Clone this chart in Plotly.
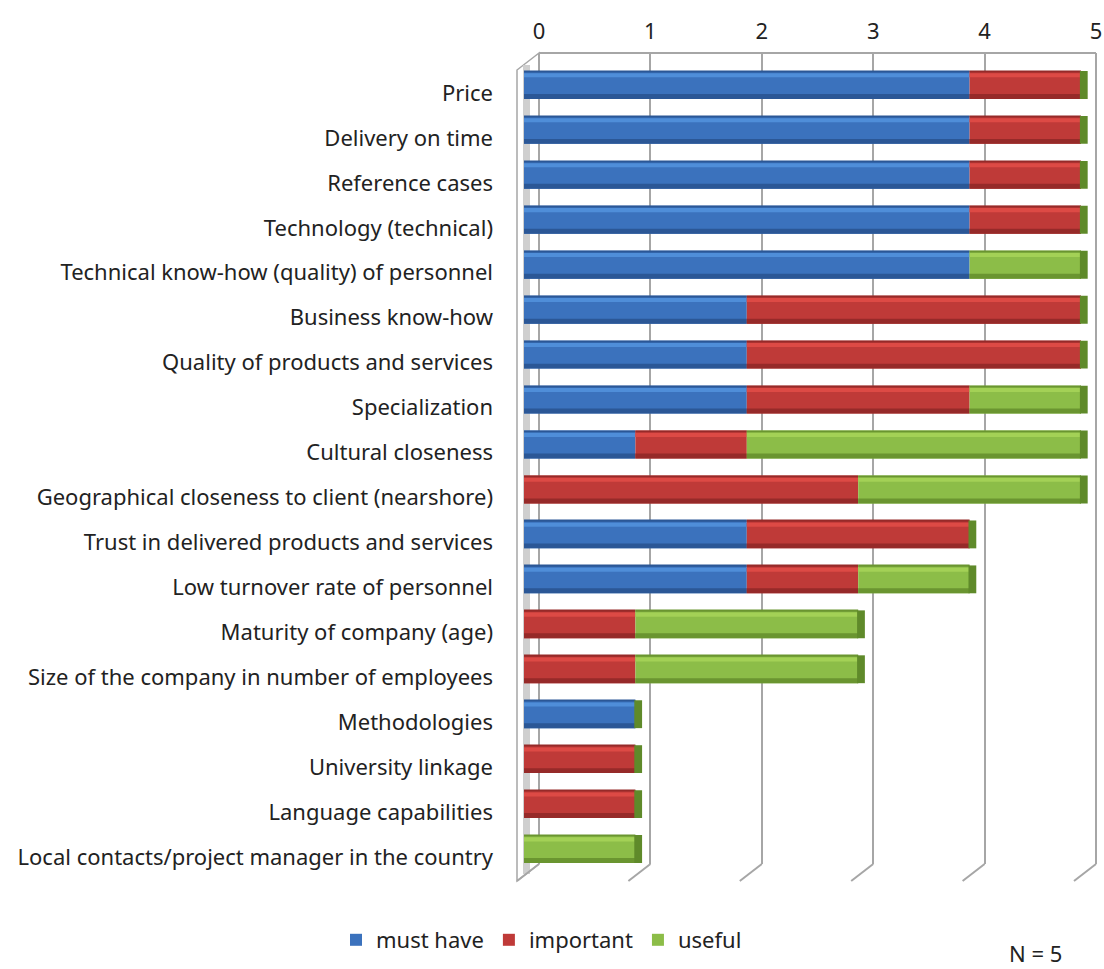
import numpy as np
import plotly.graph_objects as go

categories = [
    "Price",
    "Delivery on time",
    "Reference cases",
    "Technology (technical)",
    "Technical know-how (quality) of personnel",
    "Business know-how",
    "Quality of products and services",
    "Specialization",
    "Cultural closeness",
    "Geographical closeness to client (nearshore)",
    "Trust in delivered products and services",
    "Low turnover rate of personnel",
    "Maturity of company (age)",
    "Size of the company in number of employees",
    "Methodologies",
    "University linkage",
    "Language capabilities",
    "Local contacts/project manager in the country",
]
must_have = [4, 4, 4, 4, 4, 2, 2, 2, 1, 0, 2, 2, 0, 0, 1, 0, 0, 0]
important = [1, 1, 1, 1, 0, 3, 3, 2, 1, 3, 2, 1, 1, 1, 0, 1, 1, 0]
useful = [0, 0, 0, 0, 1, 0, 0, 1, 3, 2, 0, 1, 2, 2, 0, 0, 0, 1]
tick_values = [0, 1, 2, 3, 4, 5]

# (name, values, mid colour, highlight colour, shadow colour)
series = [
    ("must have", must_have, "#3b72bd", "#4f8ed9", "#2b5796"),
    ("important", important, "#bf3a38", "#dd4a45", "#962a29"),
    ("useful", useful, "#8cbd48", "#a3d156", "#6a9530"),
]

W, H = 1104, 969
FONT = "Noto Sans"
TEXT = "#222222"
GRID = "#a6a6a6"
WALL = "#cfcfcf"


def fx(px):
    return px / W


def fy(px):
    return 1 - px / H


# back wall (value axis, gridlines) and front plane (bars) in pixels
BACK_X = (539, 1096)
BACK_Y = (53, 864)
FRONT_X0 = 524
UNIT = (BACK_X[1] - BACK_X[0]) / tick_values[-1]   # pixels per unit
FRONT_MAX = 5.18                                     # room for the bar end faces
BAR_Y = (62.5, 871.5)
LABEL_SHIFT = 8          # category labels sit slightly below bar centres
DEPTH_DX, DEPTH_DY = -22, 17

fig = go.Figure()

# invisible trace that holds the back-wall subplot (top axis + gridlines)
fig.add_trace(go.Scatter(x=[None], y=[None], xaxis="x", yaxis="y3",
                         showlegend=False, hoverinfo="skip"))
# invisible trace that carries the category labels
fig.add_trace(go.Scatter(x=[None] * len(categories), y=categories,
                         xaxis="x2", yaxis="y4", mode="markers",
                         showlegend=False, hoverinfo="skip"))

base = np.zeros(len(categories))
for name, vals, mid, light, dark in series:
    vals = np.array(vals, dtype=float)
    common = dict(x=vals, y=categories, base=base.copy(), orientation="h",
                  xaxis="x2", yaxis="y", hoverinfo="skip", legendgroup=name)
    fig.add_trace(go.Bar(name=name, width=0.62, offset=-0.31,
                         marker=dict(color=mid, line=dict(width=0)), **common))
    # cylinder-like shading: light band near the top, dark band near the bottom
    fig.add_trace(go.Bar(width=0.03, offset=-0.31, showlegend=False,
                         marker=dict(color=dark, line=dict(width=0)), **common))
    fig.add_trace(go.Bar(width=0.09, offset=-0.26, showlegend=False,
                         marker=dict(color=light, line=dict(width=0)), **common))
    fig.add_trace(go.Bar(width=0.11, offset=0.20, showlegend=False,
                         marker=dict(color=dark, line=dict(width=0)), **common))
    base = base + vals

# end face of each 3D bar
totals = base
fig.add_trace(go.Bar(x=[0.07] * len(categories), y=categories,
                     base=totals - 0.01, orientation="h", width=0.62,
                     offset=-0.31,
                     marker=dict(color="#5f8a2a", line=dict(width=0)),
                     xaxis="x2", yaxis="y", showlegend=False, hoverinfo="skip"))

shapes = []
bx0, bx1 = BACK_X
by0, by1 = BACK_Y
# left side wall of the 3D box
wall_path = (f"M{fx(bx0)},{fy(by0)} L{fx(bx0 + DEPTH_DX)},{fy(by0 + DEPTH_DY)} "
             f"L{fx(bx0 + DEPTH_DX)},{fy(by1 + DEPTH_DY)} L{fx(bx0)},{fy(by1)} Z")
shapes.append(dict(type="path", xref="paper", yref="paper", path=wall_path,
                   fillcolor="white", line=dict(color=GRID, width=1.5),
                   layer="below"))
shapes.append(dict(type="rect", xref="paper", yref="paper",
                   x0=fx(bx0 - 16), x1=fx(bx0 - 9),
                   y0=fy(by1 + 10), y1=fy(by0 + 12),
                   fillcolor=WALL, line=dict(width=0), layer="below"))
# back frame: top edge and outer gridlines
shapes.append(dict(type="line", xref="paper", yref="paper",
                   x0=fx(bx0), x1=fx(bx1), y0=fy(by0), y1=fy(by0),
                   line=dict(color=GRID, width=2), layer="below"))
for t in tick_values:
    xb = bx0 + UNIT * t
    if t in (tick_values[0], tick_values[-1]):
        shapes.append(dict(type="line", xref="paper", yref="paper",
                           x0=fx(xb), x1=fx(xb), y0=fy(by0), y1=fy(by1),
                           line=dict(color=GRID, width=2), layer="below"))
    # floor edges running from the back gridlines toward the viewer
    shapes.append(dict(type="line", xref="paper", yref="paper",
                       x0=fx(xb), x1=fx(xb + DEPTH_DX),
                       y0=fy(by1), y1=fy(by1 + DEPTH_DY),
                       line=dict(color=GRID, width=2), layer="below"))

fig.update_layout(
    width=W, height=H,
    margin=dict(l=0, r=0, t=0, b=0, autoexpand=False),
    paper_bgcolor="white", plot_bgcolor="rgba(0,0,0,0)",
    barmode="overlay",
    font=dict(family=FONT, color=TEXT, size=22),
    shapes=shapes,
    xaxis=dict(domain=[fx(bx0), fx(bx1)], range=[0, 5], side="top",
               anchor="y3", tickvals=tick_values, ticks="",
               ticklabelstandoff=9, ticklabeloverflow="allow",
               automargin=False,
               showgrid=True, gridcolor=GRID, gridwidth=2, zeroline=False,
               showline=False, tickfont=dict(size=22, color=TEXT)),
    xaxis2=dict(domain=[fx(FRONT_X0), fx(FRONT_X0 + UNIT * FRONT_MAX)],
                range=[0, FRONT_MAX], anchor="y", visible=False,
                automargin=False),
    yaxis=dict(domain=[fy(BAR_Y[1]), fy(BAR_Y[0])], range=[17.5, -0.5],
               type="category", categoryorder="array",
               categoryarray=categories, anchor="x2", visible=False,
               automargin=False),
    yaxis3=dict(domain=[fy(by1), fy(by0)], range=[0, 1], anchor="x",
                visible=False, automargin=False),
    yaxis4=dict(domain=[fy(BAR_Y[1] + LABEL_SHIFT), fy(BAR_Y[0] + LABEL_SHIFT)],
                range=[17.5, -0.5], type="category", categoryorder="array",
                categoryarray=categories, anchor="x2", ticks="",
                ticklabelstandoff=30, showgrid=False, zeroline=False,
                showline=False, automargin=False,
                tickfont=dict(size=22, color=TEXT)),
    legend=dict(orientation="h", x=fx(336), xanchor="left", y=fy(940),
                yanchor="middle", font=dict(size=22, color=TEXT),
                itemwidth=30, traceorder="normal"),
    annotations=[dict(text="N = 5", x=fx(1035), y=fy(953), xref="paper",
                      yref="paper", xanchor="center", yanchor="middle",
                      showarrow=False, font=dict(size=22, color=TEXT))],
)

fig.write_html("out.html")
